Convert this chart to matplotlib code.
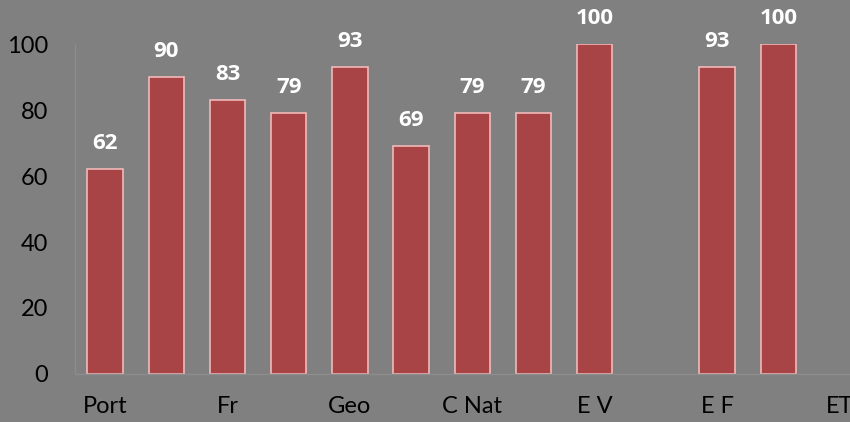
import numpy as np
import matplotlib.pyplot as plt

categories = ["Port", "", "Fr", "", "Geo", "", "C Nat", "", "E V", "", "E F", "", "ET"]
values = [62, 90, 83, 79, 93, 69, 79, 79, 100, np.nan, 93, 100, np.nan]
y_ticks = [0, 20, 40, 60, 80, 100]

bg = "#808080"
bar_color = "#a84446"
edge_color = "#f2b9b9"

plt.rcParams["font.family"] = ["Lato", "DejaVu Sans"]

fig = plt.figure(figsize=(8.5, 4.22), dpi=100, facecolor=bg)
ax = fig.add_axes([74.5 / 850, 48 / 422, (850 - 74.5) / 850, 330 / 422])
ax.set_facecolor(bg)

x = np.arange(len(categories))
bars = ax.bar(x, values, width=0.58, color=bar_color, edgecolor=edge_color, linewidth=1.2)

# data labels above the bars (bold)
for xi, v in zip(x, values):
    if np.isnan(v):
        continue
    ax.annotate(f"{v:.0f}", (xi, v), xytext=(0, 11), textcoords="offset points",
                ha="center", va="bottom", color="white", fontsize=16,
                fontweight="bold", family=["Open Sans", "DejaVu Sans"],
                annotation_clip=False)

ax.set_xlim(-0.5, (850 - 74.5) / 61.2 - 0.5)
ax.set_ylim(0, 100)
ax.set_yticks(y_ticks)
ax.set_yticklabels([str(t) for t in y_ticks])

shown = [i for i, c in enumerate(categories) if c]
ax.set_xticks(shown)
ax.set_xticklabels([categories[i] for i in shown])

ax.tick_params(axis="both", length=0, labelsize=17, colors="black")
ax.tick_params(axis="y", pad=19)
ax.tick_params(axis="x", pad=16)

for side in ["top", "right"]:
    ax.spines[side].set_visible(False)
for side in ["left", "bottom"]:
    ax.spines[side].set_color("#8c8c8c")
    ax.spines[side].set_linewidth(1)

fig.savefig("out.png", dpi=100, facecolor=bg)
